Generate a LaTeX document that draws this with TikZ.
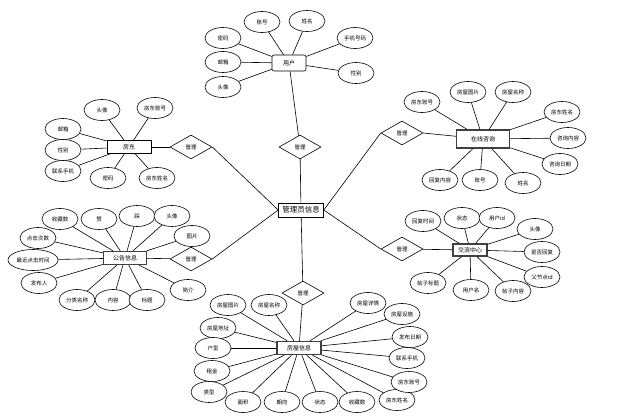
\documentclass[tikz,border=0pt]{standalone}
\usepackage{fontspec}
\newfontfamily\cjk{Noto Sans CJK SC}
\usetikzlibrary{shapes.geometric}
\tikzset{
  attr/.style={ellipse,draw,line width=0.6pt,fill=white,minimum width=36pt,minimum height=21pt,inner sep=0.5pt,font=\cjk\fontsize{5.5}{6}\selectfont},
  ent/.style={rectangle,draw,line width=0.6pt,fill=white,inner sep=1pt,font=\cjk\fontsize{6}{7}\selectfont},
  entb/.style={ent,line width=1.4pt,draw=black!75},
  rel/.style={diamond,draw,line width=0.6pt,fill=white,minimum width=42pt,minimum height=24pt,inner sep=0pt,font=\cjk\fontsize{5.5}{6}\selectfont},
  conn/.style={line width=0.6pt}
}
\begin{document}
\begin{tikzpicture}[x=1pt,y=-1pt]
\useasboundingbox (0,0) rectangle (637,418);
% entities
\node[ent,minimum width=45pt,minimum height=14pt,font=\cjk\fontsize{7.5}{8}\selectfont] (admin) at (301,210) {管理员信息};
\node[ent,rounded corners=2pt,minimum width=34pt,minimum height=16pt] (user) at (289,63) {用户};
\node[ent,minimum width=44pt,minimum height=13pt] (landlord) at (129,147) {房东};
\node[entb,minimum width=53pt,minimum height=18pt] (consult) at (483,139) {在线咨询};
\node[entb,minimum width=43pt,minimum height=13pt] (notice) at (125,258) {公告信息};
\node[entb,minimum width=34pt,minimum height=12pt] (forum) at (470,250) {交流中心};
\node[entb,minimum width=44pt,minimum height=13pt] (house) at (299,348) {房屋信息};
% relations
\node[rel] (dU) at (300,147) {管理};
\node[rel] (dD) at (303,293) {管理};
\node[rel] (dUL) at (191,147) {管理};
\node[rel] (dLL) at (191,259) {管理};
\node[rel] (dUR) at (402,133) {管理};
\node[rel] (dLR) at (402,249) {管理};
% relation links
\draw[conn] (user) -- (dU);
\draw[conn] (dU) -- (admin);
\draw[conn] (admin) -- (dD);
\draw[conn] (dD) -- (house);
\draw[conn] (admin.west) -- (dUL.east);
\draw[conn] (dUL) -- (landlord);
\draw[conn] (admin.west) -- (dLL.east);
\draw[conn] (dLL) -- (notice);
\draw[conn] (admin.east) -- (dUR.west);
\draw[conn] (dUR.east) -- (consult);
\draw[conn] (admin.east) -- (dLR.west);
\draw[conn] (dLR) -- (forum);
% attributes
\foreach \n/\x/\y/\t/\r in {
  u1/262/22/账号/user, u2/307/21/姓名/user, u3/355/38/手机号码/user, u4/356/73/性别/user,
  u5/223/38/密码/user, u6/223/62/邮箱/user, u7/223/87/头像/user,
  l1/102/110/头像/landlord, l2/155/108/房东账号/landlord, l3/63/129/邮箱/landlord,
  l4/63/150/性别/landlord, l5/63/171/联系手机/landlord, l6/108/178/密码/landlord, l7/157/178/房东姓名/landlord,
  c1/422/102/房东账号/consult, c2/468/92/房屋图片/consult, c3/513/92/房屋名称/consult,
  c4/562/112/房东姓名/consult, c5/568/138/咨询内容/consult, c6/560/164/咨询日期/consult,
  c7/440/180/回复内容/consult, c8/480/180/账号/consult, c9/523/183/姓名/consult,
  f1/423/221/回复时间/forum, f2/462/218/状态/forum, f3/497/218/用户id/forum,
  f4/535/229/头像/forum, f5/542/252/是否回复/forum, f6/542/277/父节点id/forum,
  f7/428/283/帖子标题/forum, f8/471/290/用户名/forum, f9/513/291/帖子内容/forum,
  n1/60/219/收藏数/notice, n2/99/219/赞/notice, n3/137/216/踩/notice, n4/172/216/头像/notice,
  n5/192/236/图片/notice, n6/38/238/点击次数/notice, n8/39/283/发布人/notice,
  n9/77/300/分类名称/notice, n10/113/300/内容/notice, n11/147/300/标题/notice, n12/188/290/简介/notice,
  h1/228/305/房屋图片/house, h2/269/305/房屋名称/house, h3/218/328/房屋地址/house,
  h4/213/348/户型/house, h5/212/371/租金/house, h6/209/392/类型/house,
  h7/243/402/面积/house, h8/282/402/朝向/house, h9/320/402/状态/house, h10/357/402/收藏数/house,
  h11/397/400/房东姓名/house, h12/368/303/房屋详情/house, h13/402/314/房屋设施/house,
  h14/410/337/发布日期/house, h15/407/358/联系手机/house, h16/409/382/房东账号/house}
{
  \node[attr] (\n) at (\x,\y) {\t};
  \draw[conn] (\n) -- (\r);
}
\node[attr,minimum width=50pt] (n7) at (33,260) {最近点击时间};
\draw[conn] (n7) -- (notice);
\end{tikzpicture}
\end{document}
